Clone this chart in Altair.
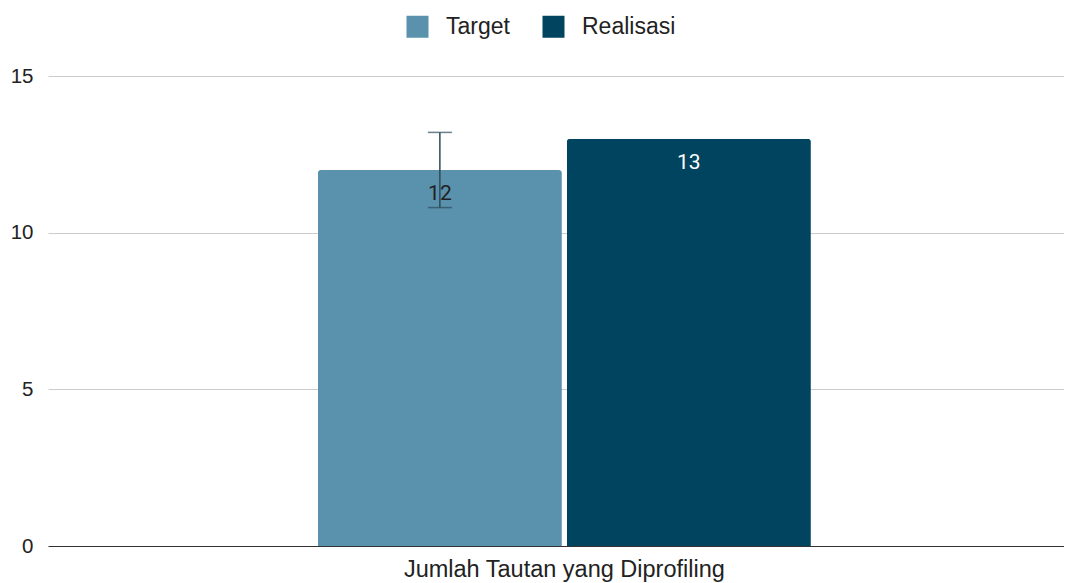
import altair as alt
import pandas as pd

categories = ["Jumlah Tautan yang Diprofiling"]
series = ["Target", "Realisasi"]
values = [12, 13]
err_series = ["Target"]
err_low = [10.8]
err_high = [13.2]
colors = ["#5A92AE", "#01445F"]
label_colors = ["#222222", "#FFFFFF"]
y_ticks = [0, 5, 10, 15]

df = pd.DataFrame({"cat": categories * 2, "series": series, "value": values,
                   "lcolor": label_colors})
err = pd.DataFrame({"cat": categories, "series": err_series, "lo": err_low, "hi": err_high})

FONT = "Liberation Sans"

x = alt.X("cat:N", title=None,
          scale=alt.Scale(paddingInner=0, paddingOuter=0.5304, align=0.516),
          axis=alt.Axis(labelAngle=0, ticks=False, labelPadding=30, labelBaseline="alphabetic",
                        labelFontSize=23.5, labelLimit=1000,
                        labelFont=FONT, labelColor="#222222", domainColor="#333333",
                        domainWidth=1, grid=False))
xo = alt.XOffset("series:N", sort=series,
                 scale=alt.Scale(domain=series, paddingInner=0.02, paddingOuter=0))
y = alt.Y("value:Q", title=None,
          scale=alt.Scale(domain=[0, 15], nice=False),
          axis=alt.Axis(values=y_ticks, grid=True, gridColor="#CCCCCC", domain=False,
                        ticks=False, labelPadding=15, labelFontSize=20.5, labelFont=FONT,
                        labelColor="#222222"))

bars = alt.Chart(df).mark_bar(cornerRadiusTopLeft=3, cornerRadiusTopRight=3).encode(
    x=x, xOffset=xo, y=y,
    color=alt.Color("series:N", sort=series,
                    scale=alt.Scale(domain=series, range=colors),
                    legend=alt.Legend(title=None, orient="none", direction="horizontal",
                                      legendX=358, legendY=-61, symbolType="square",
                                      symbolSize=484, symbolStrokeWidth=0,
                                      labelFontSize=23, labelFont=FONT,
                                      labelColor="#222222", labelOffset=17,
                                      columnPadding=32, padding=0))
)

labels = alt.Chart(df).mark_text(baseline="middle", dy=24, fontSize=21, font="Roboto").encode(
    x=x, xOffset=xo, y="value:Q", text="value:Q",
    color=alt.Color("lcolor:N", scale=None)
)

err_rule = alt.Chart(err).mark_rule(color="#2E4A58", strokeWidth=1.5).encode(
    x=x, xOffset=xo, y="lo:Q", y2="hi:Q"
)
err_lo = alt.Chart(err).mark_tick(color="#2E4A58", thickness=1.5, size=24).encode(
    x=x, xOffset=xo, y="lo:Q"
)
err_hi = alt.Chart(err).mark_tick(color="#2E4A58", thickness=1.5, size=24).encode(
    x=x, xOffset=xo, y="hi:Q"
)

chart = alt.layer(bars, labels, err_rule, err_lo, err_hi).properties(
    width=1016, height=470,
    autosize=alt.AutoSizeParams(type="none"),
    padding={"left": 40, "top": 68, "right": 0, "bottom": 37},
).configure_view(stroke=None)

chart.save("out.html", embed_options={"renderer": "svg", "actions": False})
